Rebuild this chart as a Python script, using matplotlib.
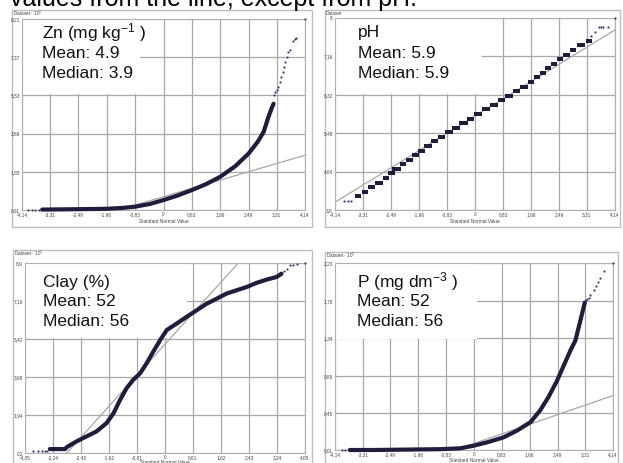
"""Normal QQ plots of four soil attributes, ArcGIS-style panels."""

import matplotlib
matplotlib.use("Agg")
import matplotlib.pyplot as plt
from matplotlib.patches import Rectangle

W, H = 623, 463

# standard normal ticks
std_ticks = [-4.14, -3.31, -2.49, -1.66, -0.83, 0, 0.83, 1.66, 2.49, 3.31, 4.14]
clay_xticks = [-4.05, -3.24, -2.43, -1.62, -0.81, 0, 0.81, 1.62, 2.43, 3.24, 4.05]

# Zn
zn_yticks = [0.01, 1.85, 3.69, 5.53, 7.37, 9.21]
zn_x = [-3.55, -3.0, -2.5, -2.0, -1.66, -1.2, -0.83, -0.4, 0.0, 0.4, 0.83, 1.25,
        1.66, 2.1, 2.49, 2.75, 2.93, 3.07, 3.15, 3.22]
zn_y = [0.03, 0.04, 0.05, 0.06, 0.07, 0.11, 0.17, 0.3, 0.49, 0.7, 0.97, 1.26,
        1.61, 2.12, 2.73, 3.28, 3.77, 4.49, 4.85, 5.13]
zn_tail_x = [-3.95, -3.85, -3.75, -3.65, 3.22, 3.26, 3.31, 3.36, 3.41, 3.45,
             3.49, 3.53, 3.56, 3.60, 3.63, 3.70, 3.78, 3.85, 3.88, 4.14]
zn_tail_y = [0.02, 0.02, 0.02, 0.03, 5.55, 5.68, 5.77, 5.95, 6.17, 6.4,
             6.65, 6.9, 7.13, 7.4, 7.61, 7.73, 8.14, 8.25, 8.3, 9.21]
zn_ref_x = [-4.14, 4.14]
zn_ref_y = [-1.35, 2.65]

# pH (discrete 0.1 steps)
ph_yticks = [3.8, 4.64, 5.48, 6.32, 7.16, 8.0]
ph_levels = [4.1, 4.2, 4.3, 4.4, 4.5, 4.6, 4.7, 4.8, 4.9, 5.0, 5.1, 5.2, 5.3, 5.4,
             5.5, 5.6, 5.7, 5.8, 5.9, 6.0, 6.1, 6.2, 6.3, 6.4, 6.5, 6.6, 6.7, 6.8,
             6.9, 7.0, 7.1, 7.2, 7.3, 7.4, 7.5]
ph_start = [-3.55, -3.34, -3.16, -2.96, -2.72, -2.58, -2.45, -2.22, -2.03, -1.86,
            -1.68, -1.50, -1.30, -1.10, -0.90, -0.68, -0.46, -0.24, -0.02, 0.22,
            0.45, 0.67, 0.90, 1.12, 1.34, 1.56, 1.74, 1.92, 2.08, 2.26, 2.42,
            2.60, 2.80, 3.02, 3.28]
ph_end = [-3.36, -3.16, -2.96, -2.72, -2.54, -2.38, -2.18, -2.03, -1.84, -1.66,
          -1.48, -1.28, -1.08, -0.88, -0.66, -0.44, -0.22, -0.02, 0.22, 0.45,
          0.67, 0.90, 1.12, 1.34, 1.56, 1.74, 1.92, 2.10, 2.26, 2.42, 2.60,
          2.80, 3.00, 3.26, 3.45]
ph_tail_x = [-3.88, -3.75, -3.68, 3.42, 3.54, 3.66, 3.72, 3.78, 3.93, 4.14]
ph_tail_y = [4.0, 4.0, 4.0, 7.6, 7.7, 7.8, 7.8, 7.8, 7.8, 8.0]
ph_ref_x = [-4.14, 4.14]
ph_ref_y = [3.97, 7.74]

# Clay
clay_yticks = [0.2, 1.94, 3.68, 5.42, 7.16, 8.9]
clay_x = [-3.33, -2.89, -2.84, -2.56, -2.27, -1.98, -1.69, -1.49, -1.30, -1.11,
          -0.92, -0.72, -0.53, -0.34, -0.14, 0.05, 0.34, 0.63, 0.92, 1.21, 1.50,
          1.78, 2.07, 2.36, 2.65, 2.94, 3.23, 3.37]
clay_y = [0.38, 0.38, 0.47, 0.73, 0.96, 1.19, 1.57, 2.02, 2.63, 3.17, 3.55, 3.85,
          4.31, 4.84, 5.37, 5.83, 6.13, 6.44, 6.74, 7.04, 7.27, 7.50, 7.65, 7.80,
          7.99, 8.14, 8.26, 8.41]
clay_tail_x = [-3.81, -3.66, -3.56, -3.47, -3.40, 3.45, 3.52, 3.62, 3.71, 3.81, 4.05]
clay_tail_y = [0.28, 0.28, 0.28, 0.28, 0.3, 8.52, 8.64, 8.79, 8.79, 8.84, 8.9]
clay_ref_x = [-2.84, 2.12]
clay_ref_y = [0.2, 8.9]

# P
p_yticks = [0.01, 0.45, 0.89, 1.34, 1.78, 2.23]
p_x = [-3.7, -3.0, -2.0, -1.0, -0.41, -0.02, 0.38, 0.88, 1.28, 1.68, 1.97, 2.22,
       2.47, 2.67, 2.87, 3.02, 3.12, 3.22, 3.30]
p_y = [0.01, 0.01, 0.015, 0.02, 0.03, 0.06, 0.10, 0.16, 0.24, 0.34, 0.48, 0.64,
       0.83, 1.01, 1.19, 1.31, 1.47, 1.63, 1.76]
p_tail_x = [-3.94, -3.84, 3.33, 3.38, 3.42, 3.46, 3.56, 3.63, 3.70, 3.76, 3.86, 4.14]
p_tail_y = [0.01, 0.01, 1.79, 1.80, 1.82, 1.85, 1.91, 1.96, 2.0, 2.05, 2.13, 2.23]
p_ref_x = [-4.14, 4.14]
p_ref_y = [-0.48, 0.656]

plt.rcParams["font.family"] = ["Liberation Sans", "DejaVu Sans"]
plt.rcParams["mathtext.default"] = "regular"

fig = plt.figure(figsize=(W / 100, H / 100), dpi=100)
DARK = "#1e1e3c"
GRID = "#a8a8a8"


def fx(px):
    return px / W


def fy(py):
    return 1 - py / H


def comma(v):
    return f"{v:g}".replace(".", ",")


def panel(frame, box, mask, xticks, yticks, dataset, xlabel_y):
    x0, y0, x1, y1 = frame
    fig.add_artist(Rectangle((fx(x0), fy(y1)), fx(x1 - x0), (y1 - y0) / H,
                             transform=fig.transFigure, facecolor="white",
                             edgecolor="#bdbdbd", lw=1.0, zorder=0))
    bx0, by0, bx1, by1 = box
    ax = fig.add_axes([fx(bx0), fy(by1), fx(bx1 - bx0), (by1 - by0) / H])
    ax.set_xlim(xticks[0], xticks[-1])
    ax.set_ylim(yticks[0], yticks[-1])
    ax.set_xticks(xticks)
    ax.set_xticklabels([comma(v) for v in xticks])
    ax.set_yticks(yticks)
    ax.set_yticklabels([comma(v) for v in yticks])
    ax.tick_params(length=0, labelsize=3.4, pad=1.5, colors="#444444")
    ax.set_axisbelow(True)
    ax.grid(color=GRID, lw=0.9)
    for spine in ax.spines.values():
        spine.set_color("#b0b0b0")
        spine.set_linewidth(0.8)
    # white area behind the annotation text
    mx0, my0, mx1, my1 = mask
    ax.add_patch(Rectangle(((mx0 - bx0) / (bx1 - bx0), (by1 - my1) / (by1 - by0)),
                           (mx1 - mx0) / (bx1 - bx0), (my1 - my0) / (by1 - by0),
                           transform=ax.transAxes, facecolor="white",
                           edgecolor="none", zorder=1))
    fig.text(fx(x0 + 1), fy(y0 + 3.5), dataset, fontsize=3.4, color="#444444",
             va="center", ha="left")
    fig.text(fx((bx0 + bx1) / 2), fy(xlabel_y), "Standard Normal Value",
             fontsize=3.4, color="#444444", ha="center", va="center")
    return ax


def label_block(x, y, lines):
    for i, line in enumerate(lines):
        fig.text(fx(x), fy(y + i * 20), line, fontsize=12.5, color="#111111",
                 ha="left", va="center")


# Zn
ax = panel((12, 10, 312, 227), (22, 19, 305, 210), (22, 19, 140, 94),
           std_ticks, zn_yticks, "Dataset · 10$^{1}$", 222)
ax.plot(zn_ref_x, zn_ref_y, color=GRID, lw=0.9, zorder=2)
ax.plot(zn_x, zn_y, color=DARK, lw=3.0, solid_capstyle="round", zorder=3,
        clip_on=False)
ax.scatter(zn_tail_x, zn_tail_y, s=2.5, color="#3c3c6e", zorder=3, clip_on=False,
           linewidths=0)
label_block(42, 33, ["Zn (mg kg$^{-1}$ )", "Mean: 4.9", "Median: 3.9"])

# pH
ax = panel((325, 10, 620, 227), (335, 18, 615, 210), (335, 18, 482, 94),
           std_ticks, ph_yticks, "Dataset", 222)
ax.plot(ph_ref_x, ph_ref_y, color=GRID, lw=0.9, zorder=2)
ax.hlines(ph_levels, ph_start, ph_end, color=DARK, lw=2.9, zorder=3)
ax.scatter(ph_tail_x, ph_tail_y, s=2.5, color="#3c3c6e", zorder=3, clip_on=False,
           linewidths=0)
label_block(358, 33, ["pH", "Mean: 5.9", "Median: 5.9"])

# Clay
ax = panel((13, 250, 312, 475), (25, 263, 305, 453), (25, 263, 187, 338),
           clay_xticks, clay_yticks, "Dataset · 10$^{1}$", 463)
ax.plot(clay_ref_x, clay_ref_y, color=GRID, lw=0.9, zorder=2)
ax.plot(clay_x, clay_y, color=DARK, lw=3.0, solid_capstyle="round", zorder=3)
ax.scatter(clay_tail_x, clay_tail_y, s=2.5, color="#3c3c6e", zorder=3,
           clip_on=False, linewidths=0)
label_block(43, 282, ["Clay (%)", "Mean: 52", "Median: 56"])

# P
ax = panel((325, 252, 618, 475), (335, 263, 613, 450), (335, 263, 477, 339),
           std_ticks, p_yticks, "Dataset · 10$^{2}$", 460)
ax.plot(p_ref_x, p_ref_y, color=GRID, lw=0.9, zorder=2)
ax.plot(p_x, p_y, color=DARK, lw=3.0, solid_capstyle="round", zorder=3,
        clip_on=False)
ax.scatter(p_tail_x, p_tail_y, s=2.5, color="#3c3c6e", zorder=3, clip_on=False,
           linewidths=0)
label_block(357, 282, ["P (mg dm$^{-3}$ )", "Mean: 52", "Median: 56"])

# slide sentence cut off at the top edge
fig.text(fx(10), fy(6), "values from the line, except from pH.", fontsize=18,
         color="black", ha="left", va="baseline")

fig.savefig("out.png", dpi=100)
plt.close(fig)
